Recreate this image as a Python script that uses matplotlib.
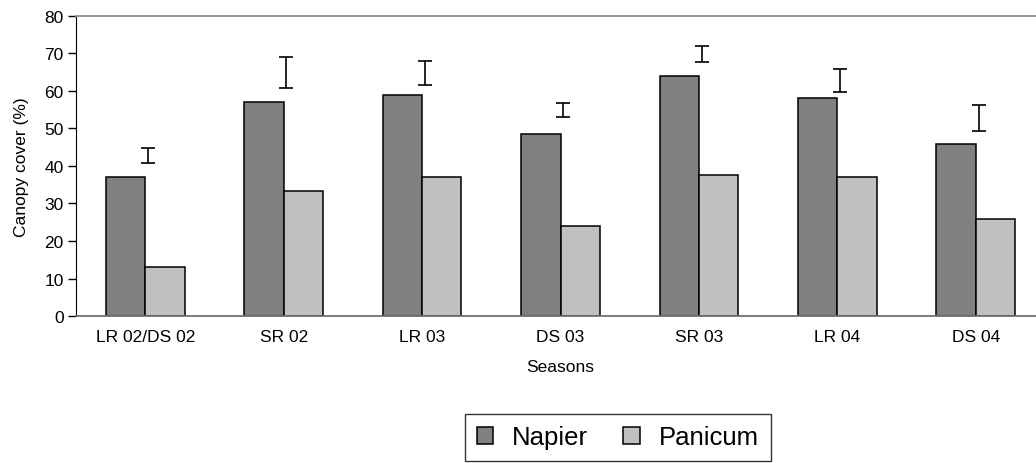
import matplotlib
matplotlib.use("Agg")
import matplotlib.pyplot as plt
import numpy as np

seasons = ["LR 02/DS 02", "SR 02", "LR 03", "DS 03", "SR 03", "LR 04", "DS 04"]
napier = [37.1, 57.1, 58.9, 48.5, 64.0, 58.1, 45.8]
panicum = [13.1, 33.4, 37.1, 23.9, 37.6, 37.1, 25.8]
# floating error (LSD-type) bars: centre and half-length
err_center = [42.85, 64.85, 64.85, 54.85, 69.85, 62.85, 52.75]
err_half = [2.05, 4.15, 3.25, 1.85, 2.2, 3.05, 3.45]

plt.rcParams['font.family'] = ['Liberation Sans', 'DejaVu Sans']

fig = plt.figure(figsize=(10.36, 4.64), dpi=100)
ax = fig.add_axes([0.0734, 0.3168, 0.9353, 0.6466])

x = np.arange(len(seasons))
w = 0.284
ax.bar(x - w / 2, napier, width=w, color="#808080", edgecolor="black",
       linewidth=1.1, label="Napier", zorder=2)
ax.bar(x + w / 2, panicum, width=w, color="#C0C0C0", edgecolor="black",
       linewidth=1.1, label="Panicum", zorder=2)
ax.errorbar(x + 0.02, err_center, yerr=err_half, fmt="none", ecolor="black",
            elinewidth=1.2, capsize=4.7, capthick=1.2, zorder=3)

ax.set_xlim(-0.5, len(seasons) - 0.5)
ax.set_ylim(0, 80)
ax.set_yticks(range(0, 81, 10))
ax.set_xticks(x)
ax.set_xticklabels(seasons, fontsize=12.5)
ax.tick_params(axis="x", length=0, pad=9)
ax.tick_params(axis="y", labelsize=12.5, length=6, width=1, direction="out", pad=3)

ax.set_xlabel("Seasons", fontsize=12.5, labelpad=11)
ax.set_ylabel("Canopy cover (%)", fontsize=12.5, labelpad=11)

ax.spines["left"].set_color("black")
ax.spines["bottom"].set_color("#707070")
ax.spines["bottom"].set_linewidth(1.3)
ax.spines["top"].set_color("#909090")
ax.spines["top"].set_linewidth(1.3)
ax.spines["right"].set_color("#909090")

leg = fig.legend(loc="lower left", bbox_to_anchor=(465 / 1036, 2 / 464),
                 ncol=2, fontsize=18.5, frameon=True, fancybox=False,
                 handlelength=0.65, handleheight=0.65, handletextpad=0.74,
                 columnspacing=1.36, borderpad=0.45, borderaxespad=0)
leg.get_frame().set_edgecolor("black")
leg.get_frame().set_linewidth(1.0)

fig.savefig("out.png", dpi=100)
